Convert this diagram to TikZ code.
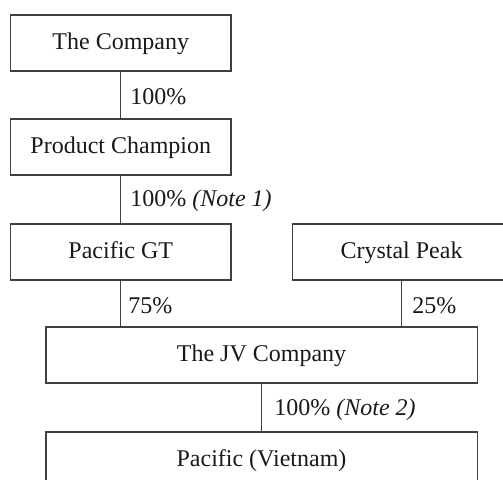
\documentclass[tikz,border=0pt]{standalone}
\usepackage{fontspec}
\setmainfont{Liberation Serif}
\begin{document}
\begin{tikzpicture}[x=0.5pt,y=-0.5pt,
  box/.style={draw=black!75,line width=0.65pt,minimum height=28pt,inner sep=0pt,text height=8.8pt,text depth=2.5pt,font=\fontsize{12}{14}\selectfont,text=black!90},
  lab/.style={inner sep=0pt,anchor=west,font=\fontsize{12}{14}\selectfont,text=black!90},
  conn/.style={draw=black!75,line width=0.65pt}]
\useasboundingbox (0,0) rectangle (503,479);
\clip (0,0) rectangle (503,479);
\node[box,minimum width=110.15pt] (comp) at (120.8,43) {The Company};
\node[box,minimum width=110.15pt] (prod) at (120.8,147) {Product Champion};
\node[box,minimum width=110.15pt] (pgt) at (120.8,252) {Pacific GT};
\node[box,minimum width=109pt] (cp) at (401.5,252) {Crystal Peak};
\node[box,minimum width=215.65pt] (jv) at (261.5,355) {The JV Company};
\node[box,minimum width=215.65pt] (viet) at (261.5,460) {Pacific (Vietnam)};
\draw[conn] (comp.south) -- (prod.north);
\draw[conn] (prod.south) -- (pgt.north);
\draw[conn] (pgt.south) -- (pgt.south |- jv.north);
\draw[conn] (cp.south) -- (cp.south |- jv.north);
\draw[conn] (jv.south) -- (viet.north);
\node[lab] (l1) at (130,97) {100\%};
\node[lab] (l2) at (130,201) {100\% \textit{(Note 1)}};
\node[lab] (l3) at (128,306) {75\%};
\node[lab] (l4) at (412,306) {25\%};
\node[lab] (l5) at (274,410) {100\% \textit{(Note 2)}};
\end{tikzpicture}
\end{document}
